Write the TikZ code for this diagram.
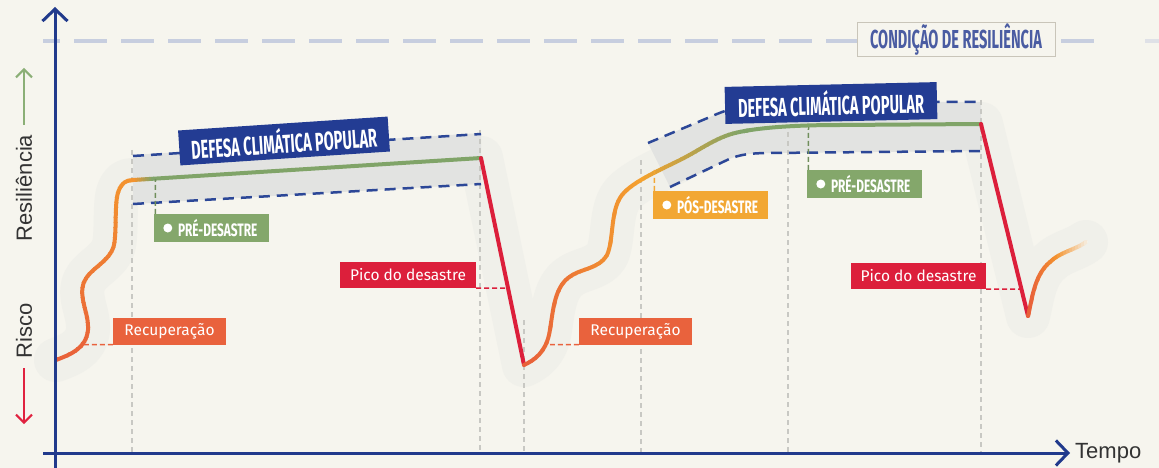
\documentclass[tikz,border=0pt]{standalone}
\usepackage{fontspec}
\setmainfont{Fira Sans}
\newfontfamily\condf{Fira Sans}[FakeStretch=0.56]
\newfontfamily\condfb{Fira Sans}[FakeStretch=0.66]
\newfontfamily\axisf{Liberation Sans}
\usetikzlibrary{arrows.meta,calc}
\definecolor{bg}{HTML}{F6F5EE}
\definecolor{axisblue}{HTML}{213A8C}
\definecolor{labblue}{HTML}{233C93}
\definecolor{dashblue}{HTML}{2C4797}
\definecolor{bandgray}{HTML}{E2E3E1}
\definecolor{shadowc}{HTML}{F0F0EA}
\definecolor{vgray}{HTML}{C8C8C3}
\definecolor{resline}{HTML}{C7CEDF}
\definecolor{condtext}{HTML}{4A5CA2}
\definecolor{condborder}{HTML}{C9C5B9}
\definecolor{grn}{HTML}{80A468}
\definecolor{pregreen}{HTML}{84A76B}
\definecolor{posorange}{HTML}{F2A733}
\definecolor{redc}{HTML}{DC1F3B}
\definecolor{recor}{HTML}{E9623D}
\definecolor{cbot}{HTML}{E8603A}
\definecolor{ctop}{HTML}{F3932F}
\definecolor{camber}{HTML}{F4A22E}
\definecolor{axtext}{HTML}{333333}
\definecolor{arrgreen}{HTML}{8BAF76}
\definecolor{arrred}{HTML}{E0223F}
\newcommand\pathCurveA{(56,360) .. controls (72,354) and (86,348) .. (88,330) .. controls (89,312) and (78,298) .. (84,282) .. controls (90,268) and (110,262) .. (114,245) .. controls (117,230) and (114,200) .. (119,190) .. controls (122,183) and (126,180) .. (133,180)}
\newcommand\pathCurveB{(524,365) .. controls (535,360) and (545,352) .. (549,335) .. controls (553,315) and (553,290) .. (568,278) .. controls (580,268) and (598,270) .. (607,255) .. controls (614,240) and (610,210) .. (622,195) .. controls (632,182) and (660,170) .. (680,160) .. controls (700,150) and (715,138) .. (735,133) .. controls (760,127) and (800,125) .. (840,125) -- (981,124)}
\newcommand\pathCurveC{(1028,316) .. controls (1032,300) and (1034,275) .. (1050,262) .. controls (1060,252) and (1075,250) .. (1086,242)}
\newcommand\phasetext[1]{\makebox[95pt][l]{\hspace*{14pt}#1}}
\begin{document}
\begin{tikzpicture}[x=1pt,y=-1pt,
  cline/.style={line width=4pt, line cap=round, line join=round},
  tag/.style={inner sep=0pt, minimum height=26pt, text=white, font=\fontsize{15.5}{15.5}\selectfont},
  deflabel/.style={fill=labblue, text=white, inner sep=0pt, minimum width=210pt, minimum height=35pt, font=\condf\bfseries\fontsize{26}{26}\selectfont},
  phase/.style={inner xsep=10pt, inner ysep=0pt, minimum height=28pt, text=white, font=\condfb\bfseries\fontsize{18}{18}\selectfont},
  leader/.style={line width=1.5pt, dash pattern=on 5pt off 3pt},
  guide/.style={vgray, line width=1.2pt, dash pattern=on 5pt off 4pt},
  band/.style={dashblue, line width=2.5pt, dash pattern=on 11pt off 7pt},
  axis/.style={axisblue, line width=3pt, -{Straight Barb[length=12pt,width=25pt]}},
  axlabel/.style={inner sep=0pt, text=axtext, font=\axisf\fontsize{22}{22}\selectfont},
]
\useasboundingbox (0,0) rectangle (1159,468);
\fill[bg] (0,0) rectangle (1159,468);

% soft shadow along the curve
\draw[shadowc, line width=44pt, line cap=round, line join=round]
  \pathCurveA -- (481,158) -- (524,365) \pathCurveB -- (1028,316) \pathCurveC;

% resilience line
\draw[resline, line width=4pt, dash pattern=on 33pt off 14pt, dash phase=16pt] (43,41) -- (1100,41);
\draw[resline!50!bg, line width=4pt] (1145,41) -- (1159,41);

% bands
\fill[bandgray] (133,155) -- (481,133) -- (481,184) -- (133,204) -- cycle;
\fill[bandgray] (648,143) -- (710,117) .. controls (730,108) and (750,102) .. (790,102) -- (981,102) -- (981,151) -- (770,153) .. controls (745,153) and (735,156) .. (725,161) -- (670,187) -- cycle;

% vertical guides
\draw[guide] (132,150) -- (132,452);
\draw[guide] (480,130) -- (480,452);
\draw[guide] (524,320) -- (524,452);
\draw[guide] (641,160) -- (641,452);
\draw[guide] (788,132) -- (788,452);
\draw[guide] (981,100) -- (981,452);

% band dashed edges
\draw[band] (133,156) -- (481,134);
\draw[band] (133,204) -- (481,184);
\draw[band] (648,143) -- (710,117) .. controls (730,108) and (750,102) .. (790,102) -- (981,102);
\draw[band] (670,187) -- (725,161) .. controls (735,156) and (745,153) .. (770,153) -- (981,151);

% curve 1 (gradient by height)
\foreach \i in {0,...,38} {
  \pgfmathsetmacro\ya{172+5*\i}
  \pgfmathtruncatemacro\mixp{max(0,min(100,(\ya-180)/180*100))}
  \begin{scope}
    \clip (40,\ya) rectangle (134,\ya+5.6);
    \draw[cline, cbot!\mixp!ctop] \pathCurveA;
  \end{scope}
}
% green plateau 1
\foreach \i in {0,...,9} {
  \pgfmathsetmacro\xa{133+2*\i}
  \pgfmathtruncatemacro\mixp{\i*11}
  \begin{scope}
    \clip (\xa,150) rectangle (\xa+2.4,200);
    \draw[cline, grn!\mixp!ctop] (130,180.2) -- (481,158);
  \end{scope}
}
\begin{scope}
  \clip (153,150) rectangle (490,200);
  \draw[cline, grn] (130,180.2) -- (481,158);
\end{scope}
% drop 1
\draw[cline, redc] (481,158) -- (524,365);

% curve 2 (gradient along x)
\foreach \i in {0,...,56} {
  \pgfmathsetmacro\xa{520+4*\i}
  \pgfmathtruncatemacro\pa{max(0,min(100,(\xa-524)/116*100))}
  \pgfmathtruncatemacro\pq{100-max(0,min(100,(\xa-640)/100*100))}
  \begin{scope}
    \clip (\xa,100) rectangle (\xa+4.6,380);
    \draw[cline, camber!\pa!cbot!\pq!grn] \pathCurveB;
  \end{scope}
}
\begin{scope}
  \clip (744,100) rectangle (990,200);
  \draw[cline, grn] \pathCurveB;
\end{scope}
% drop 2
\draw[cline, redc] (981,124) -- (1028,316);
% curve 3 (fading out)
\foreach \i in {0,...,21} {
  \pgfmathsetmacro\xa{1024+3*\i}
  \pgfmathtruncatemacro\pa{max(0,min(100,(\xa-1028)/27*100))}
  \pgfmathtruncatemacro\pq{100-max(0,min(100,(\xa-1055)/33*100))}
  \begin{scope}
    \clip (\xa,200) rectangle (\xa+3.5,330);
    \draw[cline, ctop!\pa!cbot!\pq!bg] \pathCurveC;
  \end{scope}
}

% labels
\node[deflabel, rotate=3.8] (def1) at (284,141) {DEFESA CLIMÁTICA POPULAR};
\node[deflabel, rotate=1.3, minimum width=212pt, minimum height=37pt] (def2) at (831,103) {DEFESA CLIMÁTICA POPULAR};

\node[draw=condborder, line width=1pt, fill=bg, inner sep=0pt, minimum width=198pt, minimum height=34pt,
      text=condtext, font=\condf\bfseries\fontsize{26}{26}\selectfont] (cond) at (956,40) {CONDIÇÃO DE RESILIÊNCIA};

\node[phase, fill=pregreen] (pre1) at (211.5,228) {\phasetext{PRÉ-DESASTRE}};
\node[phase, fill=posorange] (pos1) at (710.5,205) {\phasetext{PÓS-DESASTRE}};
\node[phase, fill=pregreen] (pre2) at (864.5,184) {\phasetext{PRÉ-DESASTRE}};
\fill[white] ($(pre1.west)+(14,0)$) circle (4.5pt);
\fill[white] ($(pos1.west)+(14,0)$) circle (4.5pt);
\fill[white] ($(pre2.west)+(14,0)$) circle (4.5pt);

\node[tag, fill=redc, minimum width=136pt] (pico1) at (408,275) {Pico do desastre};
\node[tag, fill=redc, minimum width=135pt] (pico2) at (918.5,276) {Pico do desastre};
\node[tag, fill=recor, minimum width=113pt, minimum height=27pt] (rec1) at (169.5,331) {Recuperação};
\node[tag, fill=recor, minimum width=113pt, minimum height=27pt] (rec2) at (635.5,331) {Recuperação};

% leaders
\coordinate (pk1) at (507,288);
\coordinate (pk2) at (1020,289);
\coordinate (rc1) at (83,344.5);
\coordinate (rc2) at (550,344.5);
\coordinate (pr1) at (155.5,179);
\coordinate (ps1) at (654.5,168);
\coordinate (pr2) at (808.5,127);
\draw[leader, redc] (pico1.south east) -- (pk1);
\draw[leader, redc] (pico2.south east) -- (pk2);
\draw[leader, recor] (rec1.south west) -- (rc1);
\draw[leader, recor] (rec2.south west) -- (rc2);
\draw[leader, pregreen!85!black] ([xshift=1.5pt]pre1.north west) -- (pr1);
\draw[leader, posorange] ([xshift=1.5pt]pos1.north west) -- (ps1);
\draw[leader, pregreen!85!black] ([xshift=1.5pt]pre2.north west) -- (pr2);

% axes
\draw[axis] (55,468) -- (55,7);
\draw[axis] (43,453) -- (1070,453);
\node[axlabel, anchor=west] (tempo) at (1075,453) {Tempo};
\node[axlabel, rotate=90] (resil) at (24,188) {Resiliência};
\node[axlabel, rotate=90] (risco) at (24,331) {Risco};
\draw[arrgreen, line width=2pt, -{Straight Barb[length=8pt,width=16pt]}] (24,125) -- (24,68);
\draw[arrred, line width=2pt, -{Straight Barb[length=8pt,width=16pt]}] (24,368) -- (24,424);
\end{tikzpicture}
\end{document}
